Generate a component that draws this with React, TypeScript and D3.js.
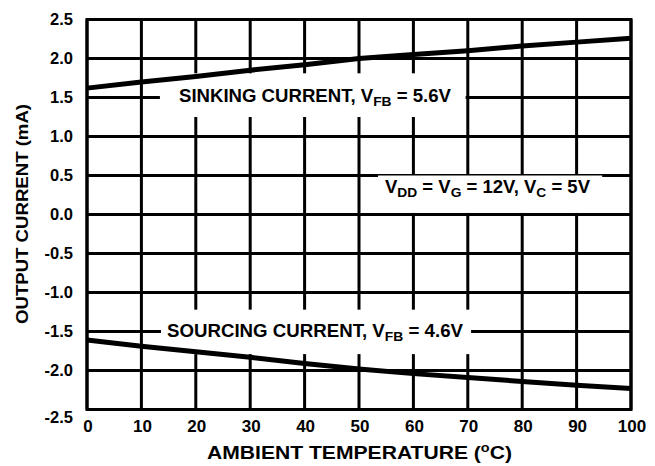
import React from "react";
import * as d3 from "d3";

const temps = [0, 10, 20, 30, 40, 50, 60, 70, 80, 90, 100];
const sinking = [1.62, 1.7, 1.77, 1.85, 1.92, 2.0, 2.05, 2.1, 2.16, 2.21, 2.26];
const sourcing = [-1.61, -1.69, -1.76, -1.83, -1.91, -1.98, -2.04, -2.09, -2.14, -2.19, -2.23];
const xTicks = [0, 10, 20, 30, 40, 50, 60, 70, 80, 90, 100];
const yTicks = [2.5, 2.0, 1.5, 1.0, 0.5, 0.0, -0.5, -1.0, -1.5, -2.0, -2.5];
const yTickLabels = ["2.5", "2.0", "1.5", "1.0", "0.5", "0.0", "-0.5", "-1.0", "-1.5", "-2.0", "-2.5"];

const W = 655;
const H = 466;
const M = { left: 87, right: 631, top: 19.5, bottom: 409.5 };
const FONT = "'Liberation Sans', Arial, Helvetica, sans-serif";

export default function App() {
  const x = d3.scaleLinear().domain([0, 100]).range([M.left, M.right]);
  const y = d3.scaleLinear().domain([-2.5, 2.5]).range([M.bottom, M.top]);
  const line = d3
    .line<number>()
    .x((_, i) => x(temps[i]))
    .y((d) => y(d));

  const boxes = [
    { x0: 13.4, x1: 69.6, y0: 1.81, y1: 1.25 },
    { x0: 13.6, x1: 70.6, y0: -1.22, y1: -1.79 },
    { x0: 53.5, x1: 94.7, y0: 0.5, y1: 0.02 },
  ];

  const SUB = 13;

  return (
    <svg
      width={W}
      height={H}
      style={{ position: "absolute", left: 0, top: 0, background: "#fff" }}
      fontFamily={FONT}
      fontWeight="bold"
    >
      <rect x={0} y={0} width={W} height={H} fill="#fff" />
      {xTicks.map((t) => (
        <line key={"gx" + t} x1={x(t)} x2={x(t)} y1={M.top} y2={M.bottom} stroke="#000" strokeWidth={3} />
      ))}
      {yTicks.map((t) => (
        <line key={"gy" + t} x1={M.left} x2={M.right} y1={y(t)} y2={y(t)} stroke="#000" strokeWidth={3} />
      ))}
      <rect
        x={M.left}
        y={M.top}
        width={M.right - M.left}
        height={M.bottom - M.top}
        fill="none"
        stroke="#000"
        strokeWidth={3}
      />
      {boxes.map((b, i) => (
        <rect key={"b" + i} x={x(b.x0)} y={y(b.y0)} width={x(b.x1) - x(b.x0)} height={y(b.y1) - y(b.y0)} fill="#fff" />
      ))}
      <path d={line(sinking) || ""} fill="none" stroke="#000" strokeWidth={5} />
      <path d={line(sourcing) || ""} fill="none" stroke="#000" strokeWidth={5} />

      <text x={179} y={102} fontSize={17.5} textLength={272} lengthAdjust="spacingAndGlyphs">
        SINKING CURRENT, V<tspan fontSize={SUB} dy={4}>FB</tspan>
        <tspan dy={-4}> = 5.6V</tspan>
      </text>
      <text x={167} y={337} fontSize={17.5} textLength={296} lengthAdjust="spacingAndGlyphs">
        SOURCING CURRENT, V<tspan fontSize={SUB} dy={4}>FB</tspan>
        <tspan dy={-4}> = 4.6V</tspan>
      </text>
      <text x={385} y={193} fontSize={17.5} textLength={205} lengthAdjust="spacingAndGlyphs">
        V<tspan fontSize={SUB} dy={4}>DD</tspan>
        <tspan dy={-4}> = V</tspan>
        <tspan fontSize={SUB} dy={4}>G</tspan>
        <tspan dy={-4}> = 12V, V</tspan>
        <tspan fontSize={SUB} dy={4}>C</tspan>
        <tspan dy={-4}> = 5V</tspan>
      </text>

      {yTicks.map((t, i) => (
        <text key={"yl" + t} x={73} y={y(t) + (i === yTicks.length - 1 ? 13.5 : 5.5)} fontSize={16.5} textAnchor="end">
          {yTickLabels[i]}
        </text>
      ))}
      {xTicks.map((t) => (
        <text key={"xl" + t} x={x(t) + 1} y={432} fontSize={17} textAnchor="middle">
          {t}
        </text>
      ))}

      <text x={207} y={459} fontSize={17.5} textLength={305} lengthAdjust="spacingAndGlyphs">
        AMBIENT TEMPERATURE (<tspan fontSize={12} dy={-7}>o</tspan>
        <tspan dy={7}>C)</tspan>
      </text>
      <text
        transform={`translate(28, ${214}) rotate(-90)`}
        fontSize={17}
        textAnchor="middle"
        textLength={220}
        lengthAdjust="spacingAndGlyphs"
      >
        OUTPUT CURRENT (mA)
      </text>
    </svg>
  );
}
